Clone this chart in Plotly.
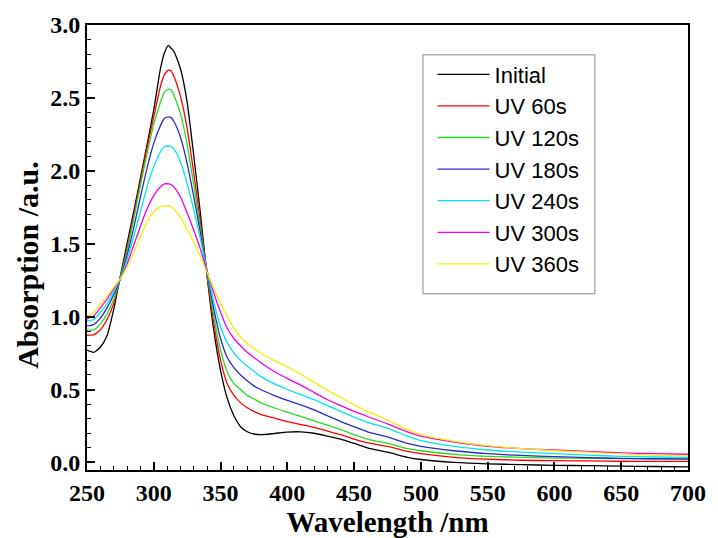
import plotly.graph_objects as go

wavelength = [250, 255, 260, 265, 270, 275, 280, 285, 290, 295, 300, 305, 308, 311, 313, 315,
              320, 325, 330, 335, 340, 345, 350, 355, 360, 365, 370, 375, 380, 390, 400, 410,
              420, 430, 440, 450, 460, 475, 490, 500, 525, 550, 575, 600, 625, 650, 675, 700]

initial = [0.77, 0.755, 0.79, 0.87, 1.05, 1.28, 1.50, 1.72, 1.95, 2.18, 2.42, 2.70, 2.81, 2.86, 2.84, 2.82,
           2.70, 2.47, 2.10, 1.70, 1.27, 0.90, 0.63, 0.44, 0.32, 0.245, 0.21, 0.195, 0.19, 0.198, 0.208, 0.21,
           0.20, 0.18, 0.16, 0.13, 0.10, 0.07, 0.035, 0.02, 0.0, -0.01, -0.015, -0.02, -0.022, -0.025, -0.028, -0.03]
uv60 = [0.873, 0.875, 0.91, 0.98, 1.09, 1.27, 1.47, 1.69, 1.93, 2.16, 2.37, 2.58, 2.66, 2.69, 2.685, 2.65,
        2.51, 2.29, 1.98, 1.64, 1.28, 0.95, 0.70, 0.54, 0.46, 0.41, 0.375, 0.35, 0.33, 0.305, 0.28, 0.26,
        0.24, 0.215, 0.19, 0.16, 0.135, 0.11, 0.075, 0.06, 0.035, 0.022, 0.015, 0.012, 0.01, 0.008, 0.007, 0.007]
uv120 = [0.907, 0.91, 0.95, 1.02, 1.12, 1.27, 1.45, 1.67, 1.90, 2.12, 2.32, 2.47, 2.54, 2.56, 2.555, 2.52,
         2.39, 2.18, 1.90, 1.60, 1.29, 1.00, 0.77, 0.62, 0.54, 0.50, 0.46, 0.435, 0.41, 0.375, 0.345, 0.315,
         0.285, 0.255, 0.225, 0.19, 0.16, 0.13, 0.095, 0.08, 0.055, 0.042, 0.035, 0.03, 0.028, 0.026, 0.025, 0.024]
uv180 = [0.936, 0.945, 0.99, 1.06, 1.15, 1.26, 1.42, 1.61, 1.82, 2.02, 2.19, 2.31, 2.36, 2.37, 2.365, 2.34,
         2.23, 2.05, 1.82, 1.57, 1.30, 1.05, 0.85, 0.72, 0.65, 0.60, 0.56, 0.525, 0.50, 0.46, 0.425, 0.395,
         0.36, 0.32, 0.28, 0.245, 0.21, 0.175, 0.13, 0.11, 0.08, 0.06, 0.048, 0.04, 0.033, 0.028, 0.025, 0.022]
uv240 = [0.97, 0.98, 1.03, 1.09, 1.17, 1.26, 1.39, 1.55, 1.72, 1.89, 2.03, 2.13, 2.165, 2.17, 2.165, 2.15,
         2.06, 1.91, 1.73, 1.53, 1.31, 1.10, 0.93, 0.82, 0.75, 0.70, 0.66, 0.625, 0.59, 0.54, 0.50, 0.465,
         0.43, 0.39, 0.35, 0.31, 0.275, 0.235, 0.18, 0.15, 0.11, 0.085, 0.07, 0.06, 0.05, 0.042, 0.037, 0.034]
uv300 = [0.985, 1.005, 1.06, 1.12, 1.19, 1.26, 1.36, 1.49, 1.62, 1.74, 1.83, 1.89, 1.91, 1.91, 1.905, 1.89,
         1.82, 1.71, 1.59, 1.46, 1.31, 1.16, 1.03, 0.92, 0.85, 0.80, 0.755, 0.72, 0.685, 0.625, 0.575, 0.53,
         0.48, 0.43, 0.39, 0.35, 0.315, 0.265, 0.21, 0.18, 0.14, 0.11, 0.095, 0.085, 0.075, 0.065, 0.06, 0.056]
uv360 = [1.00, 1.03, 1.085, 1.14, 1.20, 1.26, 1.34, 1.44, 1.55, 1.65, 1.72, 1.755, 1.76, 1.76, 1.755, 1.74,
         1.68, 1.60, 1.51, 1.41, 1.30, 1.19, 1.09, 1.00, 0.92, 0.86, 0.815, 0.78, 0.75, 0.70, 0.655, 0.605,
         0.55, 0.495, 0.445, 0.395, 0.35, 0.29, 0.225, 0.19, 0.145, 0.115, 0.095, 0.08, 0.07, 0.058, 0.05, 0.045]

series_names = ["Initial", "UV 60s", "UV 120s", "UV 180s", "UV 240s", "UV 300s", "UV 360s"]
series_values = [initial, uv60, uv120, uv180, uv240, uv300, uv360]
colors = ["#000000", "#ff0000", "#22dd22", "#2a2acc", "#00e5f0", "#ee00ee", "#f5f000"]

x_ticks = [250, 300, 350, 400, 450, 500, 550, 600, 650, 700]
y_ticks = [0.0, 0.5, 1.0, 1.5, 2.0, 2.5, 3.0]

fig = go.Figure()
for name, vals, col in zip(series_names, series_values, colors):
    fig.add_trace(go.Scatter(x=wavelength, y=vals, mode="lines", name=name,
                             line=dict(color=col, width=1.3, shape="spline", smoothing=0.6)))

tickfont = dict(family="Liberation Serif", size=24, color="black", weight="bold")
titlefont = dict(family="Liberation Serif", size=29, color="black", weight="bold")

fig.update_layout(
    width=718, height=538,
    margin=dict(l=87, r=23, t=23, b=65),
    paper_bgcolor="white", plot_bgcolor="white",
    showlegend=True,
    legend=dict(x=0.575, y=0.936, xanchor="left", yanchor="top",
                bgcolor="rgba(0,0,0,0)", borderwidth=0,
                font=dict(family="Liberation Sans", size=22, color="black"),
                itemwidth=52, tracegroupgap=0),
    shapes=[dict(type="rect", xref="paper", yref="paper", x0=0.559, x1=0.845, y0=0.396, y1=0.933,
                 line=dict(color="#888888", width=1), fillcolor="rgba(0,0,0,0)", layer="above")],
    annotations=[dict(text="Absorption /a.u.", xref="paper", yref="paper", x=-0.099, y=0.46,
                      xanchor="center", yanchor="middle", textangle=-90, showarrow=False,
                      font=dict(family="Liberation Serif", size=30, color="black", weight="bold"))],
    xaxis=dict(range=[250, 700], tickvals=x_ticks, ticks="inside", ticklen=8, tickwidth=1.5,
               tickcolor="black", showline=True, linecolor="black", linewidth=2, mirror=True,
               showgrid=False, zeroline=False, tickfont=tickfont,
               minor=dict(dtick=10, ticks="inside", ticklen=4, tickwidth=1.2, tickcolor="black", showgrid=False),
               title=dict(text="Wavelength /nm", font=titlefont, standoff=0)),
    yaxis=dict(range=[-0.052, 3.0], tickvals=y_ticks, tickformat=".1f", ticks="inside", ticklen=8,
               tickwidth=1.5, tickcolor="black", showline=True, linecolor="black", linewidth=2,
               mirror=True, showgrid=False, zeroline=False, tickfont=tickfont,
               minor=dict(dtick=0.1, tick0=0, ticks="inside", ticklen=4, tickwidth=1.2, tickcolor="black", showgrid=False)),
)

fig.write_html("out.html")
